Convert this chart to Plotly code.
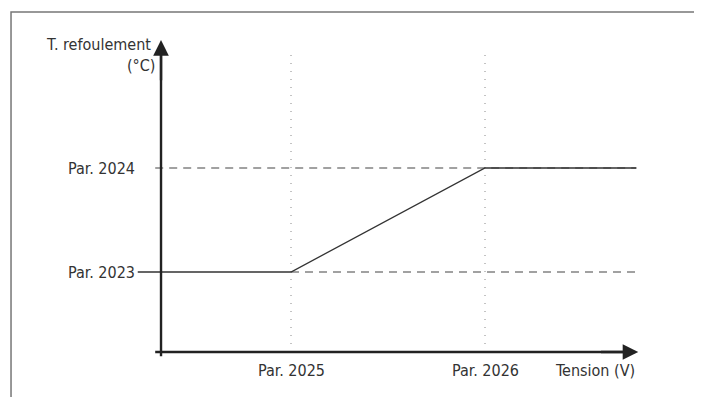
import plotly.graph_objects as go

# --- data (abstract parameter units) ---
x_tick_vals = [1, 2]
x_tick_text = ["Par. 2025", "Par. 2026"]
y_tick_vals = [1, 2]
y_tick_text = ["Par. 2023", "Par. 2024"]

curve_x = [0.21, 1, 2, 2.78]
curve_y = [1, 1, 2, 2]

dash_hi_x = [0.30, 2.78]
dash_hi_y = [2, 2]
dash_lo_x = [1, 2.78]
dash_lo_y = [1, 1]

x_axis_from, x_axis_to = 0.30, 2.79
y_axis_from, y_axis_to = 0.19, 3.23
grid_top = 3.10

FONT = "DejaVu Sans Condensed, Liberation Sans Narrow, Roboto, sans-serif"
INK = "#222222"
TXT = "#333333"

fig = go.Figure()

fig.add_trace(go.Scatter(x=dash_hi_x, y=dash_hi_y, mode="lines",
                         line=dict(color="#444444", width=1.2, dash="8px,6px"),
                         showlegend=False, hoverinfo="skip"))
fig.add_trace(go.Scatter(x=dash_lo_x, y=dash_lo_y, mode="lines",
                         line=dict(color="#444444", width=1.2, dash="8px,6px"),
                         showlegend=False, hoverinfo="skip"))
fig.add_trace(go.Scatter(x=curve_x, y=curve_y, mode="lines",
                         line=dict(color="#333333", width=1.3),
                         showlegend=False, hoverinfo="skip"))

# dotted guides at x ticks
for xv in x_tick_vals:
    fig.add_shape(type="line", x0=xv, x1=xv, y0=0.231, y1=grid_top,
                  line=dict(color="#888888", width=1, dash="1px,7px"), layer="below")

# axes
fig.add_shape(type="line", x0=x_axis_from, x1=x_axis_to - 0.05, y0=0.231, y1=0.231,
              line=dict(color=INK, width=2.4))
fig.add_shape(type="line", x0=0.33, x1=0.33, y0=y_axis_from, y1=y_axis_to - 0.1,
              line=dict(color=INK, width=2.4))
fig.add_annotation(x=x_axis_to, y=0.231, ax=x_axis_to - 0.2, ay=0.231,
                   xref="x", yref="y", axref="x", ayref="y", text="",
                   showarrow=True, arrowhead=2, arrowsize=1.3, arrowwidth=2.4,
                   arrowcolor=INK, standoff=0)
fig.add_annotation(x=0.33, y=y_axis_to, ax=0.33, ay=y_axis_to - 0.4,
                   xref="x", yref="y", axref="x", ayref="y", text="",
                   showarrow=True, arrowhead=2, arrowsize=1.3, arrowwidth=2.4,
                   arrowcolor=INK, standoff=0)

# tick labels
for xv, t in zip(x_tick_vals, x_tick_text):
    fig.add_annotation(x=xv, y=0.231, text=t, showarrow=False, yshift=-18,
                       font=dict(family=FONT, size=16, color=TXT))
for yv, t in zip(y_tick_vals, y_tick_text):
    fig.add_annotation(x=0.205, y=yv, text=t, showarrow=False, xanchor="right",
                       font=dict(family=FONT, size=16, color=TXT))

fig.add_annotation(x=x_axis_to, y=0.231, text="Tension (V)", showarrow=False,
                   xanchor="right", yshift=-18, xshift=-1,
                   font=dict(family=FONT, size=16, color=TXT))
fig.add_annotation(x=0.30, y=y_axis_to, text="T. refoulement", showarrow=False,
                   xanchor="right", yshift=-4, xshift=-2,
                   font=dict(family=FONT, size=16, color=TXT))
fig.add_annotation(x=0.30, y=y_axis_to, text="(°C)", showarrow=False,
                   xanchor="right", yshift=-25, xshift=2,
                   font=dict(family=FONT, size=16, color=TXT))

# outer frame (partly cropped)
fig.add_shape(type="path", xref="paper", yref="paper",
              path="M -0.2288,-0.12 L -0.2288,1.0537 L 1.12,1.0537",
              line=dict(color="#777777", width=1.5))

# page body has an 8px margin, so the figure is shifted and shrunk accordingly
fig.update_layout(
    width=694, height=389,
    margin=dict(l=122, r=52, t=22, b=32),
    paper_bgcolor="white", plot_bgcolor="white",
    xaxis=dict(range=[0.1701, 2.8505], visible=False, fixedrange=True),
    yaxis=dict(range=[0.106, 3.327], visible=False, fixedrange=True),
    showlegend=False,
)

fig.write_html("out.html")
